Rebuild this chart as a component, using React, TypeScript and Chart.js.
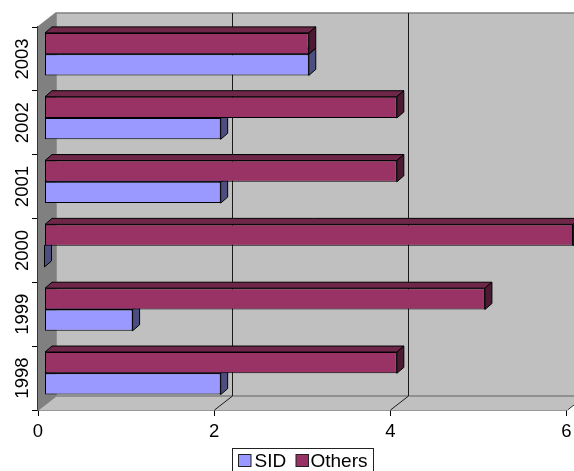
import React, { useEffect, useRef } from "react";
import { Chart, registerables } from "chart.js";

Chart.register(...registerables);

const years = ["1998", "1999", "2000", "2001", "2002", "2003"];
const sidValues = [2, 1, 0, 2, 2, 3];
const otherValues = [4, 5, 6, 4, 4, 3];
const seriesNames = ["SID", "Others"];
const seriesColors = ["#9999ff", "#993366"];
const sideColors = ["#4d4d80", "#4d1a33"];
const topColors = ["#7373bf", "#6e2748"];
const xTicks = [0, 2, 4, 6];

const FONT = "'Liberation Sans', Arial, sans-serif";
const FONT_SIZE = 18.5;
const LEGEND_FONT_SIZE = 19;
const WALL_DX = 18;
const WALL_DY = -14;
const BAR_DX = 6.5;
const BAR_DY = -4.75;
const DEPTH_DX = 7;
const DEPTH_DY = -6;

function polygon(ctx: CanvasRenderingContext2D, pts: number[][], fill: string, stroke: string) {
  ctx.beginPath();
  pts.forEach(([x, y], i) => (i ? ctx.lineTo(x, y) : ctx.moveTo(x, y)));
  ctx.closePath();
  ctx.fillStyle = fill;
  ctx.fill();
  if (stroke) {
    ctx.strokeStyle = stroke;
    ctx.lineWidth = 1;
    ctx.stroke();
  }
}

// Paints the box walls and floor, then the depth faces of each bar.
const boxPlugin = {
  id: "box3d",
  beforeDatasetsDraw(chart: any) {
    const { ctx, chartArea: a, scales } = chart;
    const xs = scales.x;
    const far = a.right + WALL_DX;
    ctx.save();
    polygon(ctx, [[a.left + WALL_DX, a.top + WALL_DY], [far, a.top + WALL_DY], [far, a.bottom + WALL_DY], [a.left + WALL_DX, a.bottom + WALL_DY]], "#c0c0c0", "");
    polygon(ctx, [[a.left, a.bottom], [a.right, a.bottom], [far, a.bottom + WALL_DY], [a.left + WALL_DX, a.bottom + WALL_DY]], "#c0c0c0", "");
    polygon(ctx, [[a.left, a.top], [a.left + WALL_DX, a.top + WALL_DY], [a.left + WALL_DX, a.bottom + WALL_DY], [a.left, a.bottom]], "#808080", "");

    ctx.strokeStyle = "#808080";
    ctx.lineWidth = 1.5;
    ctx.beginPath();
    ctx.moveTo(a.left, a.top);
    ctx.lineTo(a.left + WALL_DX, a.top + WALL_DY);
    ctx.lineTo(far, a.top + WALL_DY);
    ctx.moveTo(a.left + WALL_DX, a.top + WALL_DY);
    ctx.lineTo(a.left + WALL_DX, a.bottom + WALL_DY);
    ctx.lineTo(far, a.bottom + WALL_DY);
    ctx.moveTo(a.left + WALL_DX, a.bottom + WALL_DY);
    ctx.lineTo(a.left, a.bottom);
    ctx.stroke();

    ctx.strokeStyle = "#1a1a1a";
    ctx.lineWidth = 1;
    ctx.beginPath();
    xTicks.slice(1).forEach((v) => {
      const x = Math.round(xs.getPixelForValue(v)) + 0.5;
      ctx.moveTo(x, a.bottom);
      ctx.lineTo(x + WALL_DX, a.bottom + WALL_DY);
      ctx.lineTo(x + WALL_DX, a.top + WALL_DY);
    });
    ctx.stroke();

    // Lower series first so the upper series' front face hides its top.
    ctx.translate(BAR_DX, BAR_DY);
    [1, 0].forEach((di) => {
      const seriesIndex = chart.data.datasets[di].seriesIndex;
      chart.getDatasetMeta(di).data.forEach((bar: any) => {
        const { x, y, base, height } = bar.getProps(["x", "y", "base", "height"]);
        const t = y - height / 2;
        const b = y + height / 2;
        polygon(ctx, [[base, t], [x, t], [x + DEPTH_DX, t + DEPTH_DY], [base + DEPTH_DX, t + DEPTH_DY]], topColors[seriesIndex], "#000");
        polygon(ctx, [[x, t], [x + DEPTH_DX, t + DEPTH_DY], [x + DEPTH_DX, b + DEPTH_DY], [x, b]], sideColors[seriesIndex], "#000");
      });
    });
    ctx.restore();

    // The front faces are drawn by the chart itself, pushed into the box.
    ctx.save();
    ctx.translate(BAR_DX, BAR_DY);
  },
  afterDatasetsDraw(chart: any) {
    chart.ctx.restore();
  },
  afterDraw(chart: any) {
    const { ctx } = chart;
    ctx.save();
    ctx.strokeStyle = "#222";
    ctx.lineWidth = 1;
    ctx.strokeRect(232.5, 448.5, 141, 30);
    ctx.font = `${LEGEND_FONT_SIZE}px ${FONT}`;
    ctx.textBaseline = "alphabetic";
    ctx.textAlign = "left";
    const swatchX = [238, 295.5];
    const textX = [254.5, 310.5];
    seriesNames.forEach((name, i) => {
      ctx.fillStyle = seriesColors[i];
      ctx.fillRect(swatchX[i] + 0.5, 454.5, 12.5, 12);
      ctx.strokeStyle = "#222";
      ctx.strokeRect(swatchX[i] + 0.5, 454.5, 12.5, 12);
      ctx.fillStyle = "#000";
      ctx.fillText(name, textX[i], 467);
    });
    ctx.restore();
  },
};

export default function App() {
  const ref = useRef<HTMLCanvasElement>(null);

  useEffect(() => {
    const chart = new Chart(ref.current!, {
      type: "bar",
      plugins: [boxPlugin],
      data: {
        labels: years,
        datasets: [
          { label: seriesNames[1], seriesIndex: 1, data: otherValues, backgroundColor: seriesColors[1] },
          { label: seriesNames[0], seriesIndex: 0, data: sidValues, backgroundColor: seriesColors[0] },
        ] as any,
      },
      options: {
        indexAxis: "y",
        animation: false,
        responsive: false,
        layout: { padding: { top: 27, right: 7.5, left: 0, bottom: 26 } },
        datasets: {
          bar: {
            barPercentage: 1,
            categoryPercentage: 0.667,
            borderColor: "#000",
            borderWidth: 1,
            borderSkipped: false,
            clip: false,
          },
        },
        scales: {
          x: {
            min: 0,
            max: 6,
            afterBuildTicks(scale: any) {
              scale.ticks = xTicks.map((value) => ({ value }));
            },
            afterFit(scale: any) {
              scale.height = 35;
              scale.paddingLeft = 0;
              scale.paddingRight = 0;
            },
            grid: { drawOnChartArea: false, color: "#000", tickLength: 6 },
            border: { color: "#333", width: 1.5 },
            ticks: { color: "#000", font: { family: FONT, size: FONT_SIZE }, padding: 5, maxRotation: 0, autoSkip: false },
          },
          y: {
            reverse: true,
            afterFit(scale: any) {
              scale.width = 38;
            },
            grid: { drawOnChartArea: false, color: "#000", tickLength: 6 },
            border: { color: "#333", width: 1.5 },
            ticks: { color: "#000", font: { family: FONT, size: FONT_SIZE }, minRotation: 90, maxRotation: 90, crossAlign: "center", padding: -11.5 },
          },
        },
        plugins: {
          tooltip: { enabled: false },
          title: { display: false },
          legend: { display: false },
        },
      },
    });
    return () => chart.destroy();
  }, []);

  return (
    <canvas
      ref={ref}
      width={574}
      height={471}
      style={{ position: "absolute", left: 0, top: 0, display: "block" }}
    />
  );
}
